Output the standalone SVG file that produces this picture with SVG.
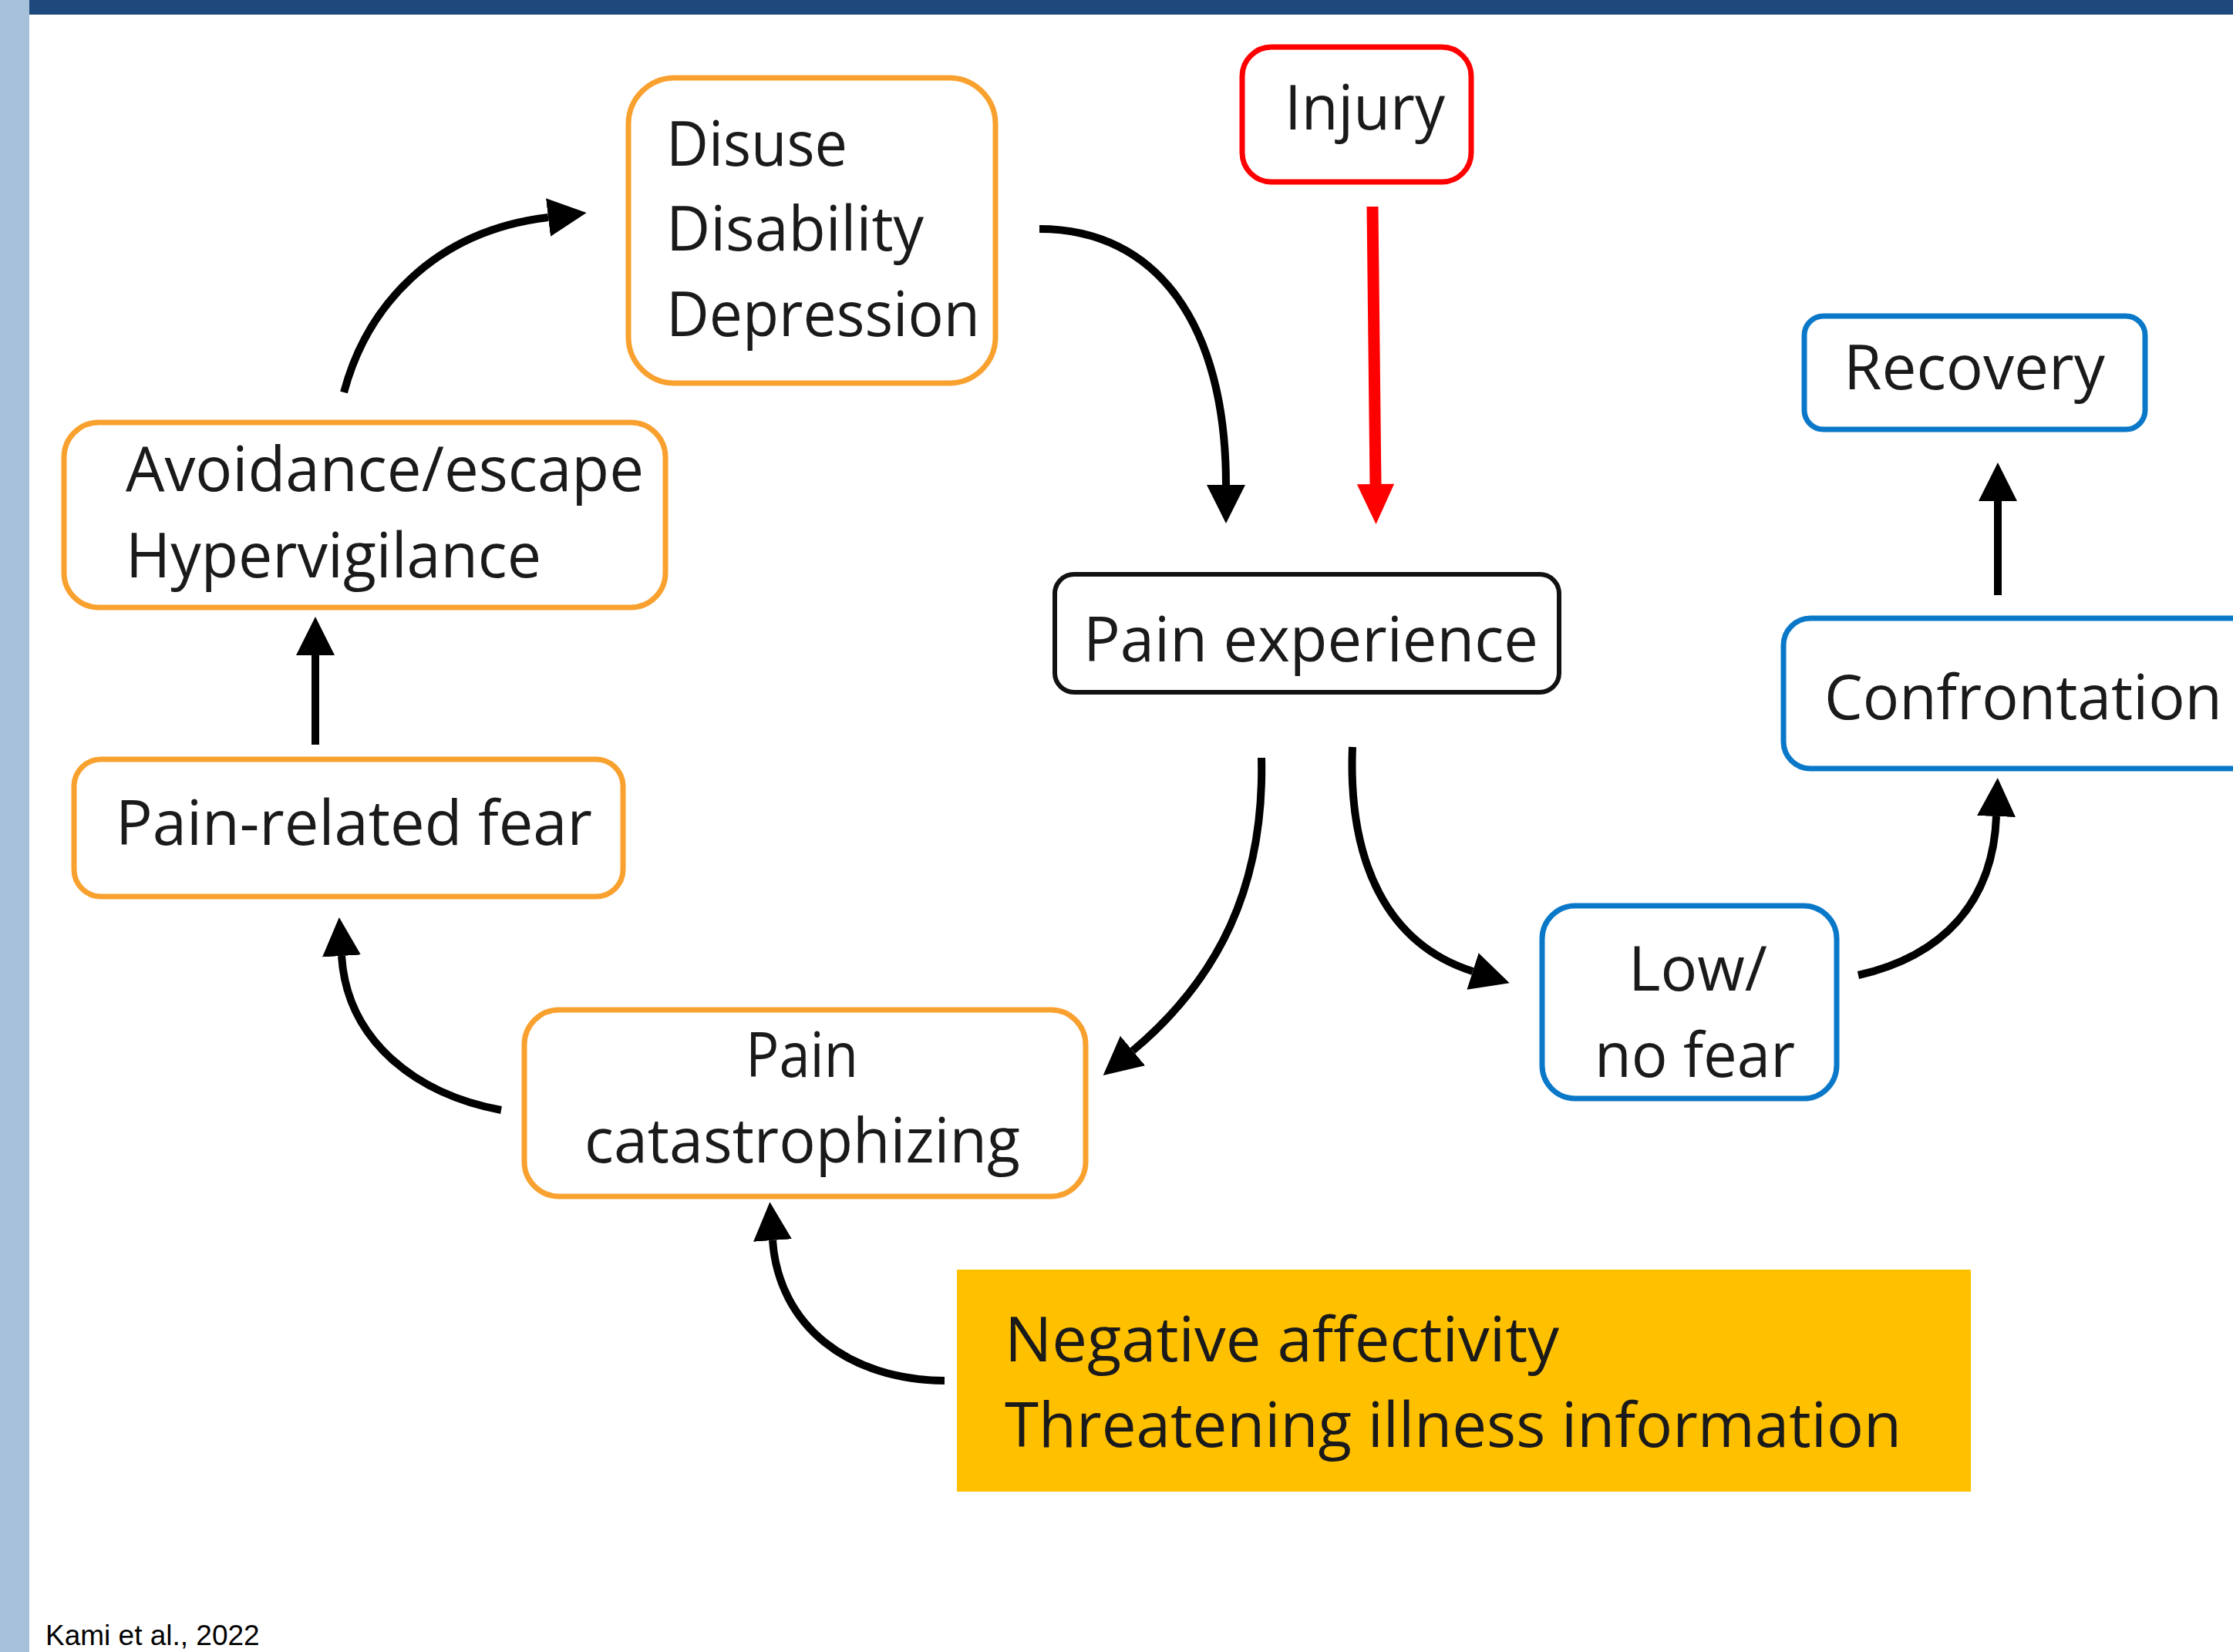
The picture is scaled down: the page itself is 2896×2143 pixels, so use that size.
<svg xmlns="http://www.w3.org/2000/svg" width="2896" height="2143" viewBox="0 0 2896 2143">
  <style>
    .box { fill: #ffffff; stroke-width: 7; }
    .orange { stroke: #F9A12F; }
    .blue { stroke: #0A78C8; }
    .red { stroke: #FF0000; }
    .black { stroke: #111111; stroke-width: 6; }
    .lbl { font-family: "Open Sans", "Noto Sans", "DejaVu Sans", sans-serif; font-size: 80px; fill: #1a1a1a; }
    .conn { fill: none; stroke: #000000; stroke-width: 10; }
    .connred { fill: none; stroke: #FF0000; stroke-width: 15; }
    .cite { font-family: "Liberation Sans", Arial, sans-serif; font-size: 37px; fill: #000000; }
  </style>
  <defs>
    <marker id="ah" viewBox="0 0 50 50" refX="0" refY="25" markerWidth="50" markerHeight="50" markerUnits="userSpaceOnUse" orient="auto">
      <path d="M0,0 L50,25 L0,50 z" fill="#000000"/>
    </marker>
    <marker id="ahr" viewBox="0 0 52 56" refX="0" refY="26" markerWidth="56" markerHeight="52" markerUnits="userSpaceOnUse" orient="auto">
      <path d="M0,0 L56,26 L0,52 z" fill="#FF0000"/>
    </marker>
  </defs>

  <rect x="0" y="0" width="2896" height="2143" fill="#ffffff"/>
  <rect id="sidebar" x="0" y="0" width="38" height="2143" fill="#A6C1D9"/>
  <rect id="header" x="38" y="0" width="2858" height="19" fill="#1F497D"/>

  <g id="connectors">
    <path class="conn" d="M446,509 C475,400 560,300 711,282" marker-end="url(#ah)"/>
    <path class="conn" d="M1348,297 C1500,297 1590,420 1590,629" marker-end="url(#ah)"/>
    <path class="connred" d="M1780,268 L1784,628" marker-end="url(#ahr)"/>
    <path class="conn" d="M1636,983 C1640,1150 1580,1270 1469,1363" marker-end="url(#ah)"/>
    <path class="conn" d="M1754,969 C1748,1120 1800,1225 1910,1260" marker-end="url(#ah)"/>
    <path class="conn" d="M2410,1265 C2520,1240 2585,1170 2589,1059" marker-end="url(#ah)"/>
    <path class="conn" d="M2591,772 L2591,650" marker-end="url(#ah)"/>
    <path class="conn" d="M650,1440 C540,1420 450,1350 443,1240" marker-end="url(#ah)"/>
    <path class="conn" d="M409,966 L409,850" marker-end="url(#ah)"/>
    <path class="conn" d="M1225,1791 C1100,1790 1010,1720 1002,1609" marker-end="url(#ah)"/>
  </g>

  <g id="disuse">
    <rect class="box orange" x="815" y="101" width="476" height="396" rx="60" ry="60"/>
    <text class="lbl" x="864" y="215" textLength="235" lengthAdjust="spacingAndGlyphs">Disuse</text>
    <text class="lbl" x="864" y="325" textLength="334" lengthAdjust="spacingAndGlyphs">Disability</text>
    <text class="lbl" x="864" y="436" textLength="407" lengthAdjust="spacingAndGlyphs">Depression</text>
  </g>

  <g id="injury">
    <rect class="box red" x="1611" y="61" width="297" height="175" rx="38" ry="38"/>
    <text class="lbl" x="1666" y="168" textLength="208" lengthAdjust="spacingAndGlyphs">Injury</text>
  </g>

  <g id="pain-experience">
    <rect class="box black" x="1368" y="745" width="654" height="153" rx="25" ry="25"/>
    <text class="lbl" x="1405" y="858" textLength="590" lengthAdjust="spacingAndGlyphs">Pain experience</text>
  </g>

  <g id="recovery">
    <rect class="box blue" x="2340" y="410" width="442" height="147" rx="25" ry="25"/>
    <text class="lbl" x="2391" y="505" textLength="339" lengthAdjust="spacingAndGlyphs">Recovery</text>
  </g>

  <g id="confrontation">
    <rect class="box blue" x="2313" y="802" width="650" height="195" rx="35" ry="35"/>
    <text class="lbl" x="2366" y="933" textLength="516" lengthAdjust="spacingAndGlyphs">Confrontation</text>
  </g>

  <g id="low-no-fear">
    <rect class="box blue" x="2000" y="1175" width="382" height="250" rx="43" ry="43"/>
    <text class="lbl" x="2112" y="1285" textLength="180" lengthAdjust="spacingAndGlyphs">Low/</text>
    <text class="lbl" x="2068" y="1397" textLength="260" lengthAdjust="spacingAndGlyphs">no fear</text>
  </g>

  <g id="pain-catastrophizing">
    <rect class="box orange" x="680" y="1310" width="728" height="242" rx="45" ry="45"/>
    <text class="lbl" x="967" y="1397" textLength="146" lengthAdjust="spacingAndGlyphs">Pain</text>
    <text class="lbl" x="758" y="1508" textLength="565" lengthAdjust="spacingAndGlyphs">catastrophizing</text>
  </g>

  <g id="pain-related-fear">
    <rect class="box orange" x="96" y="985" width="712" height="178" rx="35" ry="35"/>
    <text class="lbl" x="150" y="1096" textLength="618" lengthAdjust="spacingAndGlyphs">Pain-related fear</text>
  </g>

  <g id="avoidance">
    <rect class="box orange" x="83" y="548" width="780" height="240" rx="45" ry="45"/>
    <text class="lbl" x="163" y="637" textLength="672" lengthAdjust="spacingAndGlyphs">Avoidance/escape</text>
    <text class="lbl" x="163" y="749" textLength="539" lengthAdjust="spacingAndGlyphs">Hypervigilance</text>
  </g>

  <g id="negative-affectivity">
    <rect x="1241" y="1647" width="1315" height="288" fill="#FFC000"/>
    <text class="lbl" x="1303" y="1766" textLength="719" lengthAdjust="spacingAndGlyphs">Negative affectivity</text>
    <text class="lbl" x="1303" y="1877" textLength="1163" lengthAdjust="spacingAndGlyphs">Threatening illness information</text>
  </g>

  <text class="cite" x="59" y="2134">Kami et al., 2022</text>
</svg>
